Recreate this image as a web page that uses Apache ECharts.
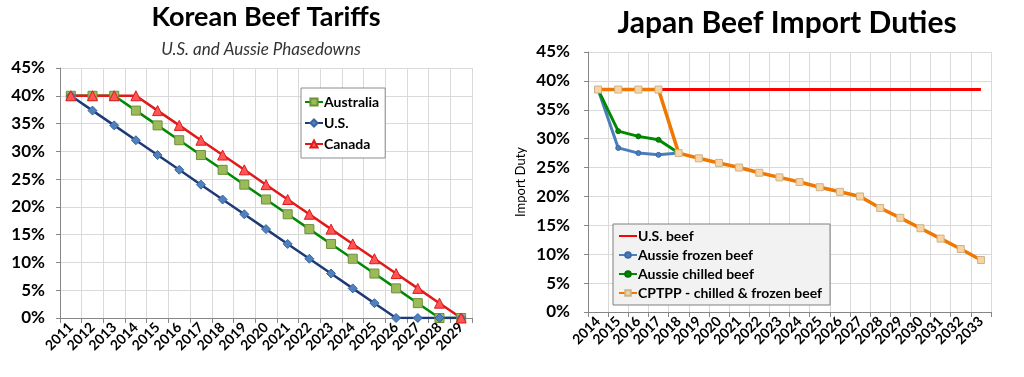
<!DOCTYPE html>
<html>
<head>
<meta charset="utf-8">
<title>Beef Tariffs</title>
<script src="https://cdn.jsdelivr.net/npm/echarts@6/dist/echarts.min.js"></script>
<style>
html, body { margin: 0; padding: 0; background: #fff; }
#beefChart { width: 1024px; height: 377px; }
</style>
</head>
<body>
<div id="beefChart"></div>
<script>
/**************************************chart data********************************************/
var koreaYears = ['2011','2012','2013','2014','2015','2016','2017','2018','2019','2020','2021','2022','2023','2024','2025','2026','2027','2028','2029'];
var koreaAustralia = [40, 40, 40, 37.33, 34.67, 32, 29.33, 26.67, 24, 21.33, 18.67, 16, 13.33, 10.67, 8, 5.33, 2.67, 0, 0];
var koreaUS = [40, 37.33, 34.67, 32, 29.33, 26.67, 24, 21.33, 18.67, 16, 13.33, 10.67, 8, 5.33, 2.67, 0, 0, 0, 0];
var koreaCanada = [40, 40, 40, 40, 37.33, 34.67, 32, 29.33, 26.67, 24, 21.33, 18.67, 16, 13.33, 10.67, 8, 5.33, 2.67, 0];

var japanYears = ['2014','2015','2016','2017','2018','2019','2020','2021','2022','2023','2024','2025','2026','2027','2028','2029','2030','2031','2032','2033'];
var japanUSBeef = [38.5, 38.5, 38.5, 38.5, 38.5, 38.5, 38.5, 38.5, 38.5, 38.5, 38.5, 38.5, 38.5, 38.5, 38.5, 38.5, 38.5, 38.5, 38.5, 38.5];
var japanAussieFrozen = [38.5, 28.4, 27.5, 27.2, 27.5];
var japanAussieChilled = [38.5, 31.3, 30.4, 29.8, 27.5];
var japanCPTPP = [38.5, 38.5, 38.5, 38.5, 27.5, 26.6, 25.8, 25.0, 24.1, 23.3, 22.5, 21.6, 20.8, 20.0, 18.0, 16.3, 14.5, 12.7, 10.9, 9.0];
/**************************************chart data********************************************/

var fontName = 'Lato';
var gridColor = '#D9D9D9';
var axisColor = '#868686';

//category axis (years) for one grid
function yearAxis(gridIndex, years){
	return {
		type: 'category',
		gridIndex: gridIndex,
		data: years,
		boundaryGap: true,
		axisLine: { lineStyle: { color: axisColor } },
		axisTick: { show: true, length: 5, lineStyle: { color: axisColor } },
		splitLine: { show: true, lineStyle: { color: gridColor } },
		axisLabel: {
			interval: 0,
			rotate: 45,
			margin: 7,
			color: '#000',
			fontFamily: fontName,
			fontWeight: 'bold',
			fontSize: 14
		}
	};
}
//percent value axis for one grid
function percentAxis(gridIndex, name, margin){
	return {
		type: 'value',
		gridIndex: gridIndex,
		min: 0,
		max: 45,
		interval: 5,
		name: name,
		nameLocation: 'middle',
		nameGap: 61,
		nameTextStyle: { color: '#000', fontFamily: fontName, fontSize: 13 },
		axisLine: { show: true, lineStyle: { color: axisColor } },
		axisTick: { show: true, length: 4, lineStyle: { color: axisColor } },
		splitLine: { show: true, lineStyle: { color: gridColor } },
		axisLabel: {
			formatter: '{value}%',
			margin: margin,
			color: '#000',
			fontFamily: fontName,
			fontWeight: 'bold',
			fontSize: 17
		}
	};
}
function lineSeries(name, idx, data, lineColor, symbol, symbolSize, fill, border, width){
	return {
		name: name,
		type: 'line',
		xAxisIndex: idx,
		yAxisIndex: idx,
		data: data,
		symbol: symbol,
		symbolSize: symbolSize,
		showSymbol: symbol != 'none',
		animation: false,
		lineStyle: { color: lineColor, width: width },
		itemStyle: { color: fill, borderColor: border, borderWidth: 1 }
	};
}

var beefChart = echarts.init(document.getElementById('beefChart'));
var option = {
	animation: false,
	title: [{
		text: 'Korean Beef Tariffs',
		left: 266, top: 4, padding: 0, textAlign: 'center',
		textStyle: { fontFamily: fontName, fontWeight: 'bold', fontSize: 27, color: '#000' }
	}, {
		text: 'U.S. and Aussie Phasedowns',
		left: 261, top: 41, padding: 0, textAlign: 'center',
		textStyle: { fontFamily: fontName, fontStyle: 'italic', fontWeight: 'normal', fontSize: 17, color: '#333' }
	}, {
		text: 'Japan Beef Import Duties',
		left: 787, top: 8, padding: 0, textAlign: 'center',
		textStyle: { fontFamily: fontName, fontWeight: 'bold', fontSize: 30, color: '#000' }
	}],
	legend: [{
		data: ['Australia', 'U.S.', 'Canada'],
		orient: 'vertical',
		left: 301, top: 88,
		padding: [7, 6, 7, 3],
		itemGap: 7,
		itemWidth: 18,
		itemHeight: 9,
		backgroundColor: '#fff',
		borderColor: '#8C8C8C',
		borderWidth: 1,
		selectedMode: false,
		textStyle: { fontFamily: fontName, fontWeight: 'bold', fontSize: 14, color: '#000', padding: [0, 0, 0, -4] }
	}, {
		data: [
			{ name: 'U.S. beef', itemStyle: { opacity: 0 } },
			'Aussie frozen beef',
			'Aussie chilled beef',
			'CPTPP - chilled & frozen beef'
		],
		orient: 'vertical',
		left: 613, top: 224,
		padding: [5, 8, 5, 5],
		itemGap: 5,
		itemWidth: 18,
		itemHeight: 7,
		backgroundColor: '#F2F2F2',
		borderColor: '#7F7F7F',
		borderWidth: 1,
		selectedMode: false,
		textStyle: { fontFamily: fontName, fontWeight: 'bold', fontSize: 14, color: '#000', padding: [0, 0, 0, -4] }
	}],
	grid: [
		{ left: 60, top: 68, width: 412, height: 250 },
		{ left: 588, top: 52, width: 403, height: 260 }
	],
	xAxis: [yearAxis(0, koreaYears), yearAxis(1, japanYears)],
	yAxis: [percentAxis(0, '', 15), percentAxis(1, 'Import Duty', 18)],
	series: [
		lineSeries('Australia', 0, koreaAustralia, '#008A00', 'rect', 9, '#9BBB59', '#6E8F3A', 2.5),
		lineSeries('U.S.', 0, koreaUS, '#1F3A78', 'diamond', 9, '#4F81BD', '#3A64A0', 2.5),
		lineSeries('Canada', 0, koreaCanada, '#E01A1A', 'triangle', 10, '#FF5555', '#E01A1A', 2.5),
		lineSeries('U.S. beef', 1, japanUSBeef, '#FF0000', 'none', 0, '#FF0000', '#FF0000', 3),
		lineSeries('Aussie frozen beef', 1, japanAussieFrozen, '#4A7EBB', 'circle', 5, '#4A7EBB', '#3A6AA8', 3),
		lineSeries('Aussie chilled beef', 1, japanAussieChilled, '#008A00', 'circle', 5, '#008A00', '#007000', 3),
		lineSeries('CPTPP - chilled & frozen beef', 1, japanCPTPP, '#F07800', 'rect', 7, '#F8D3A4', '#C9B48C', 3.5)
	]
};
beefChart.setOption(option);
</script>
</body>
</html>
